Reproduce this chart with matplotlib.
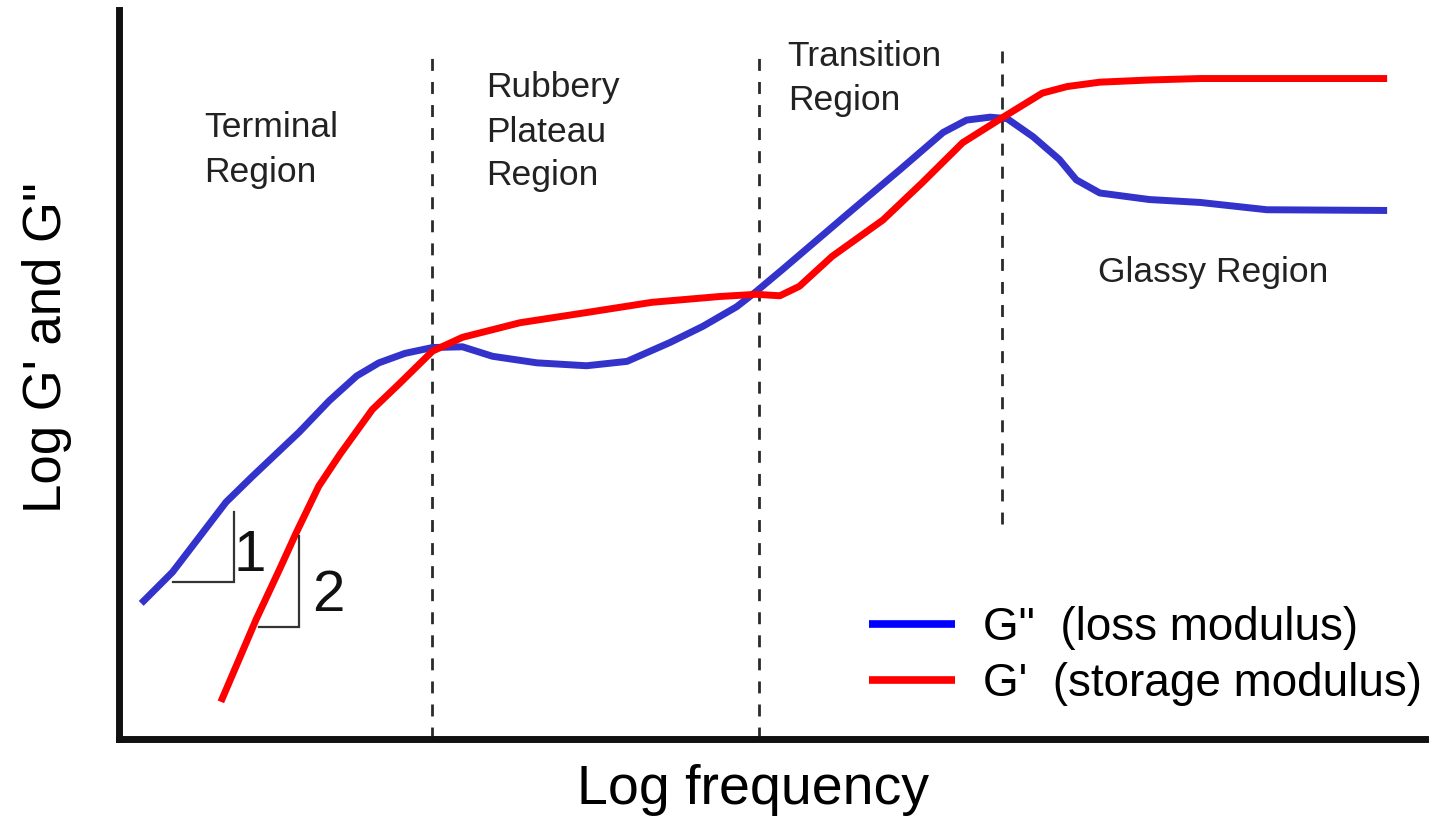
import numpy as np
import matplotlib
matplotlib.use('Agg')
from matplotlib import pyplot as plt
from matplotlib.lines import Line2D

plt.rcParams['font.family'] = ['Liberation Sans', 'DejaVu Sans']

# curves (x: log frequency, y: log modulus, 0-100 scale)
loss_x = [1.7, 4.1, 8.2, 10.2, 13.8, 16.1, 18.2, 19.9, 21.9, 24.0, 26.3, 28.6, 32.0,
          35.8, 38.9, 42.2, 44.7, 47.3, 48.8, 50.8, 55.9, 59.8, 63.1, 64.9, 66.7,
          68.0, 70.0, 72.0, 73.3, 75.1, 78.9, 82.8, 87.9, 97.1]
loss_y = [18.6, 22.9, 32.5, 36.0, 42.1, 46.4, 49.8, 51.6, 52.9, 53.7, 53.8, 52.5, 51.6,
          51.2, 51.8, 54.4, 56.6, 59.3, 61.4, 64.4, 72.2, 78.1, 83.2, 84.9, 85.3,
          85.1, 82.6, 79.5, 76.7, 74.9, 74.0, 73.6, 72.6, 72.5]

storage_x = [7.8, 10.5, 12.3, 13.6, 15.3, 16.9, 19.4, 21.5, 24.0, 26.3, 30.7, 35.8,
             40.8, 46.0, 48.8, 50.6, 52.1, 54.6, 58.5, 61.5, 64.6, 67.7, 70.7, 72.6,
             75.1, 78.9, 82.8, 97.1]
storage_y = [5.1, 16.4, 23.3, 28.4, 34.7, 39.0, 45.2, 48.8, 53.2, 55.1, 57.1, 58.5,
             59.9, 60.7, 61.0, 60.8, 62.1, 66.2, 71.2, 76.3, 81.8, 85.3, 88.6, 89.5,
             90.1, 90.4, 90.6, 90.6]

# region boundaries (x, top, bottom)
bound_x = [24.0, 49.0, 67.6]
bound_top = [94.8, 94.8, 95.9]
bound_bottom = [0.0, 0.0, 29.5]

region_labels = [['Terminal', 'Region'], ['Rubbery', 'Plateau', 'Region'],
                 ['Transition', 'Region'], ['Glassy Region']]
region_x = [6.5, 28.1, 51.2, 75.0]
region_y = [[82.6, 76.4], [88.0, 81.9, 76.0], [92.3, 86.3], [62.7]]

# slope triangles: corner (x, y), run, rise, label
tri_corner_x = [8.8, 13.8]
tri_corner_y = [21.6, 15.3]
tri_run = [4.7, 3.1]
tri_rise = [9.5, 12.5]
tri_labels = ['1', '2']
tri_label_x = [10.0, 16.0]
tri_label_y = [23.0, 17.5]

legend_labels = ['G"  (loss modulus)', "G'  (storage modulus)"]

fig = plt.figure(figsize=(14.37, 8.23), dpi=100)
ax = fig.add_axes([119 / 1437, 1 - 739 / 823, 1306 / 1437, 729 / 823])
ax.set_xlim(0, 100)
ax.set_ylim(0, 100)

for x, t, b in zip(bound_x, bound_top, bound_bottom):
    ax.plot([x, x], [b, t], color='#2a2a2a', lw=2, dashes=(4.3, 4.0), zorder=1)

ax.plot(loss_x, loss_y, color='#3333cc', lw=5, solid_joinstyle='round',
        solid_capstyle='butt', zorder=2)
ax.plot(storage_x, storage_y, color='#ff0000', lw=5, solid_joinstyle='round',
        solid_capstyle='butt', zorder=3)

for cx, cy, run, rise in zip(tri_corner_x, tri_corner_y, tri_run, tri_rise):
    ax.plot([cx - run, cx, cx], [cy, cy, cy + rise], color='#333333', lw=1.6,
            solid_joinstyle='miter', zorder=4)
for s, x, y in zip(tri_labels, tri_label_x, tri_label_y):
    ax.text(x, y, s, fontsize=42, ha='center', va='baseline', color='#111111')

for lines, x, ys in zip(region_labels, region_x, region_y):
    for s, y in zip(lines, ys):
        ax.text(x, y, s, fontsize=25.5, ha='left', va='baseline', color='#222222')

handles = [Line2D([], [], color='#0000ff', lw=5.5, solid_capstyle='butt'),
           Line2D([], [], color='#ff0000', lw=5.5, solid_capstyle='butt')]
ax.legend(handles, legend_labels, loc='upper left', bbox_to_anchor=(0.574, 0.183),
          frameon=False, fontsize=33, handlelength=1.88, handletextpad=0.61,
          labelspacing=0.27, borderpad=0, borderaxespad=0)

ax.set_xlabel('Log frequency', fontsize=40)
ax.xaxis.set_label_coords(0.4858, -0.034)
ax.set_ylabel('Log G\' and G"', fontsize=38)
ax.yaxis.set_label_coords(-0.036, 0.537)

ax.set_xticks([])
ax.set_yticks([])
for side in ['top', 'right']:
    ax.spines[side].set_visible(False)
for side in ['left', 'bottom']:
    ax.spines[side].set_linewidth(5)
    ax.spines[side].set_color('#111111')
    ax.spines[side].set_capstyle('projecting')

fig.savefig('out.png', dpi=100)
